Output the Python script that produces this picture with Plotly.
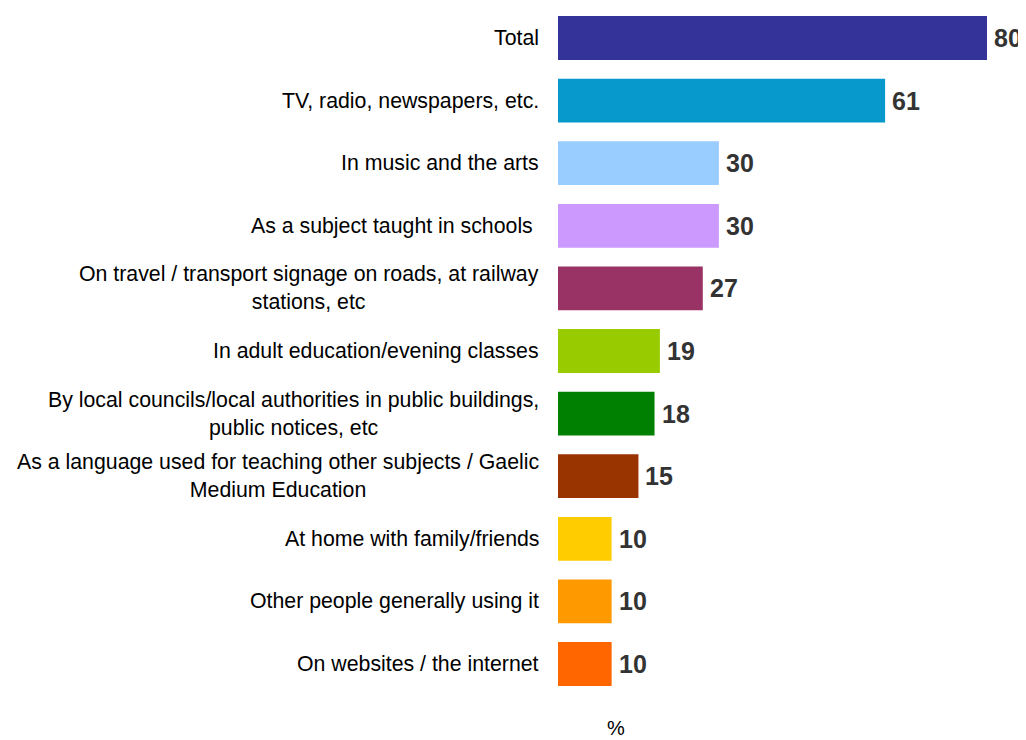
import plotly.graph_objects as go

categories = [
    "Total",
    "TV, radio, newspapers, etc.",
    "In music and the arts",
    "As a subject taught in schools ",
    "On travel / transport signage on roads, at railway<br>stations, etc",
    "In adult education/evening classes",
    "By local councils/local authorities in public buildings,<br>public notices, etc",
    "As a language used for teaching other subjects / Gaelic<br>Medium Education",
    "At home with family/friends",
    "Other people generally using it",
    "On websites / the internet",
]
values = [80, 61, 30, 30, 27, 19, 18, 15, 10, 10, 10]
colors = ["#333399", "#0899CC", "#99CCFF", "#CC99FF", "#993366", "#99CC00",
          "#008000", "#993300", "#FFCC00", "#FF9900", "#FF6600"]
axis_title = "%"

OFF = 8  # page body margin
W, H = 1026 - OFF, 740 - OFF
FONT = "Liberation Sans, Arial, sans-serif"

idx = list(range(len(categories)))

fig = go.Figure()
fig.add_trace(go.Bar(
    x=values, y=idx, orientation="h",
    marker=dict(color=colors, line=dict(width=0)),
    width=0.70, hoverinfo="skip",
))

annotations = []
for i, (c, v) in enumerate(zip(categories, values)):
    annotations.append(dict(
        x=(541 - OFF) / W, xref="paper", y=i, yref="y", text=c, showarrow=False,
        xanchor="right", yanchor="middle", align="center",
        font=dict(family=FONT, size=21.3, color="#000000"),
    ))
    annotations.append(dict(
        x=v, xref="x", y=i, yref="y", text=str(v), showarrow=False,
        xanchor="left", yanchor="middle", xshift=5, yshift=0,
        font=dict(family=FONT, size=25, color="#333333", weight="bold"),
    ))

scale = (987 - 558) / 80.0
spacing = 62.6
plot_h = 700 - OFF
annotations.append(dict(
    x=(616 - OFF) / W, xref="paper", y=-(728 - 700) / plot_h, yref="paper",
    text=axis_title, showarrow=False, xanchor="center", yanchor="middle",
    font=dict(family=FONT, size=20, color="#000000"),
))

top_center = 38 - OFF
fig.update_layout(
    width=W, height=H,
    margin=dict(l=0, r=0, t=0, b=H - plot_h, pad=0),
    paper_bgcolor="white", plot_bgcolor="white",
    showlegend=False,
    annotations=annotations,
    xaxis=dict(domain=[(558 - OFF) / W, 1], range=[0, (W - (558 - OFF)) / scale],
               showgrid=False, zeroline=False, showticklabels=False,
               showline=False, ticks=""),
    yaxis=dict(range=[(plot_h - top_center) / spacing, -top_center / spacing],
               showgrid=False, zeroline=False, showticklabels=False,
               showline=False, ticks=""),
)

fig.write_html("out.html")
